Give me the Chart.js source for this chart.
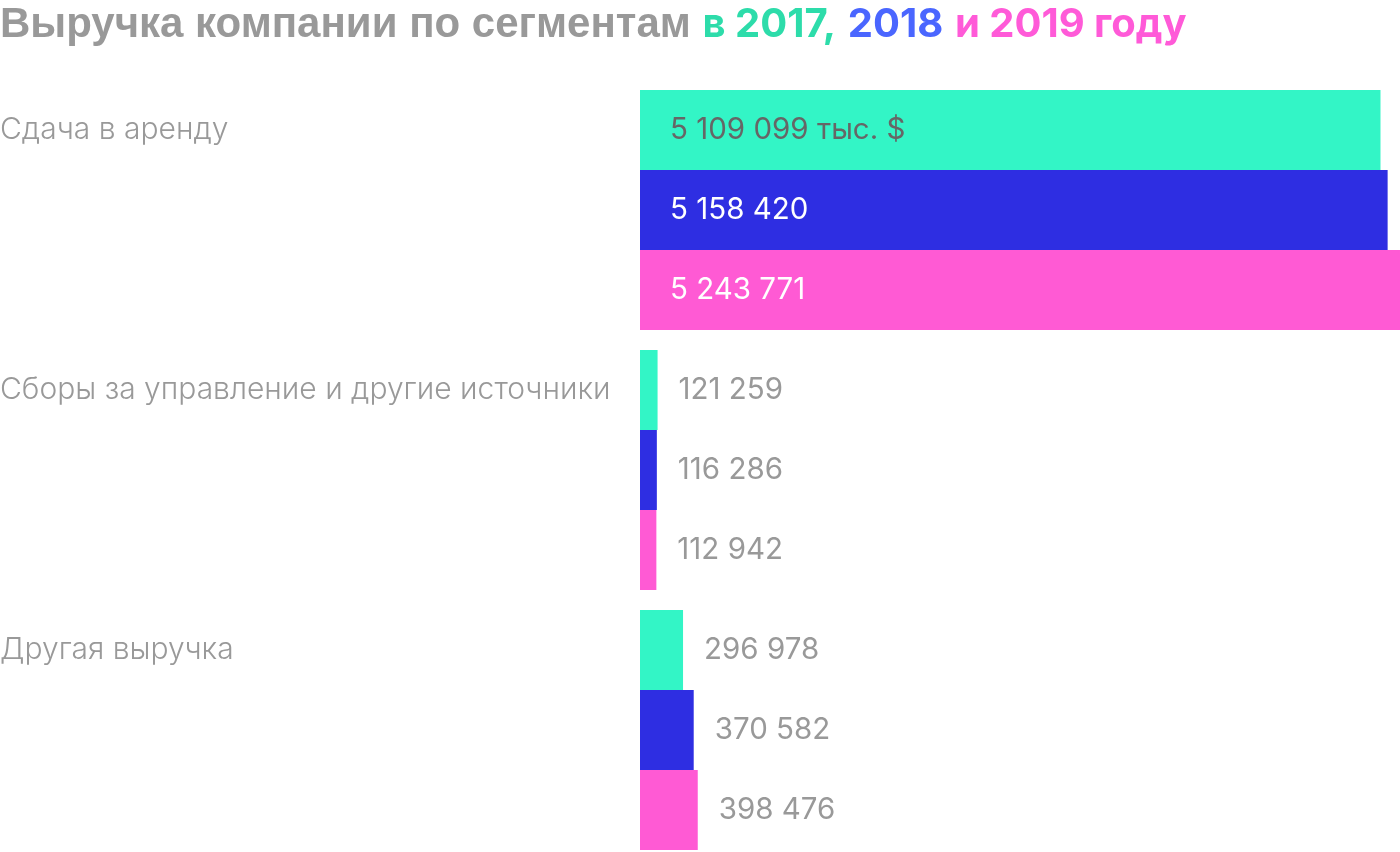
<!DOCTYPE html>
<html>
<head>
<meta charset="utf-8">
<script src="https://cdn.jsdelivr.net/npm/chart.js@4"></script>
<style>
  html, body { margin: 0; padding: 0; background: #fff; overflow: hidden; }
  #title {
    position: absolute; left: 0; top: 0;
    font: bold 42px "Liberation Sans", Arial, sans-serif;
    line-height: 46px;
    color: #999999; white-space: nowrap;
  }
  #title .y { font-family: Inter, Roboto, sans-serif; font-size: 40px; }
  #wrap { position: absolute; left: 0; top: 0; width: 1400px; height: 880px; }
</style>
</head>
<body>
<div id="wrap"><canvas id="chart" width="1400" height="880"></canvas></div>
<div id="title">Выручка компании по сегментам <span class="y" style="color:#2ddcaa">в 2017,</span> <span class="y" style="color:#4a66ff">2018</span> <span class="y" style="color:#ff5ad8">и 2019 году</span></div>
<script>
// Data
const categories = ['Сдача в аренду', 'Сборы за управление и другие источники', 'Другая выручка'];
const years = ['2017', '2018', '2019'];
const values2017 = [5109099, 121259, 296978];
const values2018 = [5158420, 116286, 370582];
const values2019 = [5243771, 112942, 398476];
const unitSuffix = ' тыс. $';

const barColors = ['#33f5c6', '#2e2ee2', '#ff5ad4'];
const insideText = ['#666666', '#ffffff', '#ffffff'];

function fmt(v) {
    return String(v).replace(/\B(?=(\d{3})+(?!\d))/g, ' ');
}

// category names on the left, level with the first bar of each group
const categoryLabels = {
    id: 'categoryLabels',
    afterDraw(chart) {
        const ctx = chart.ctx;
        const meta = chart.getDatasetMeta(0);
        ctx.save();
        ctx.font = '300 30px Inter, Roboto, sans-serif';
        ctx.fillStyle = '#999999';
        ctx.textBaseline = 'middle';
        ctx.textAlign = 'left';
        meta.data.forEach((bar, i) => {
            ctx.fillText(categories[i], 0, bar.y);
        });
        ctx.restore();
    }
};

// value labels: inside long bars, after the end of short ones
const valueLabels = {
    id: 'valueLabels',
    afterDatasetsDraw(chart) {
        const ctx = chart.ctx;
        ctx.save();
        ctx.font = '29.5px Inter, Roboto, sans-serif';
        ctx.textBaseline = 'middle';
        ctx.textAlign = 'left';
        chart.data.datasets.forEach((ds, d) => {
            chart.getDatasetMeta(d).data.forEach((bar, i) => {
                let text = fmt(ds.data[i]);
                if (d === 0 && i === 0) text += unitSuffix;
                if (bar.x - bar.base > 300) {
                    ctx.fillStyle = insideText[d];
                    ctx.fillText(text, bar.base + 30, bar.y);
                } else {
                    ctx.fillStyle = '#999999';
                    ctx.fillText(text, bar.x + 21, bar.y);
                }
            });
        });
        ctx.restore();
    }
};

new Chart(document.getElementById('chart'), {
    type: 'bar',
    data: {
        labels: categories,
        datasets: [
            { label: years[0], data: values2017, backgroundColor: barColors[0] },
            { label: years[1], data: values2018, backgroundColor: barColors[1] },
            { label: years[2], data: values2019, backgroundColor: barColors[2] }
        ]
    },
    options: {
        indexAxis: 'y',
        responsive: false,
        animation: false,
        devicePixelRatio: 1,
        categoryPercentage: 240 / 260,
        barPercentage: 1,
        layout: { padding: { left: 640, top: 80, right: 0, bottom: 20 } },
        plugins: { legend: { display: false }, tooltip: { enabled: false } },
        scales: {
            x: { display: false, min: 0, max: 5243771 },
            y: { display: false }
        }
    },
    plugins: [categoryLabels, valueLabels]
});
</script>
</body>
</html>
